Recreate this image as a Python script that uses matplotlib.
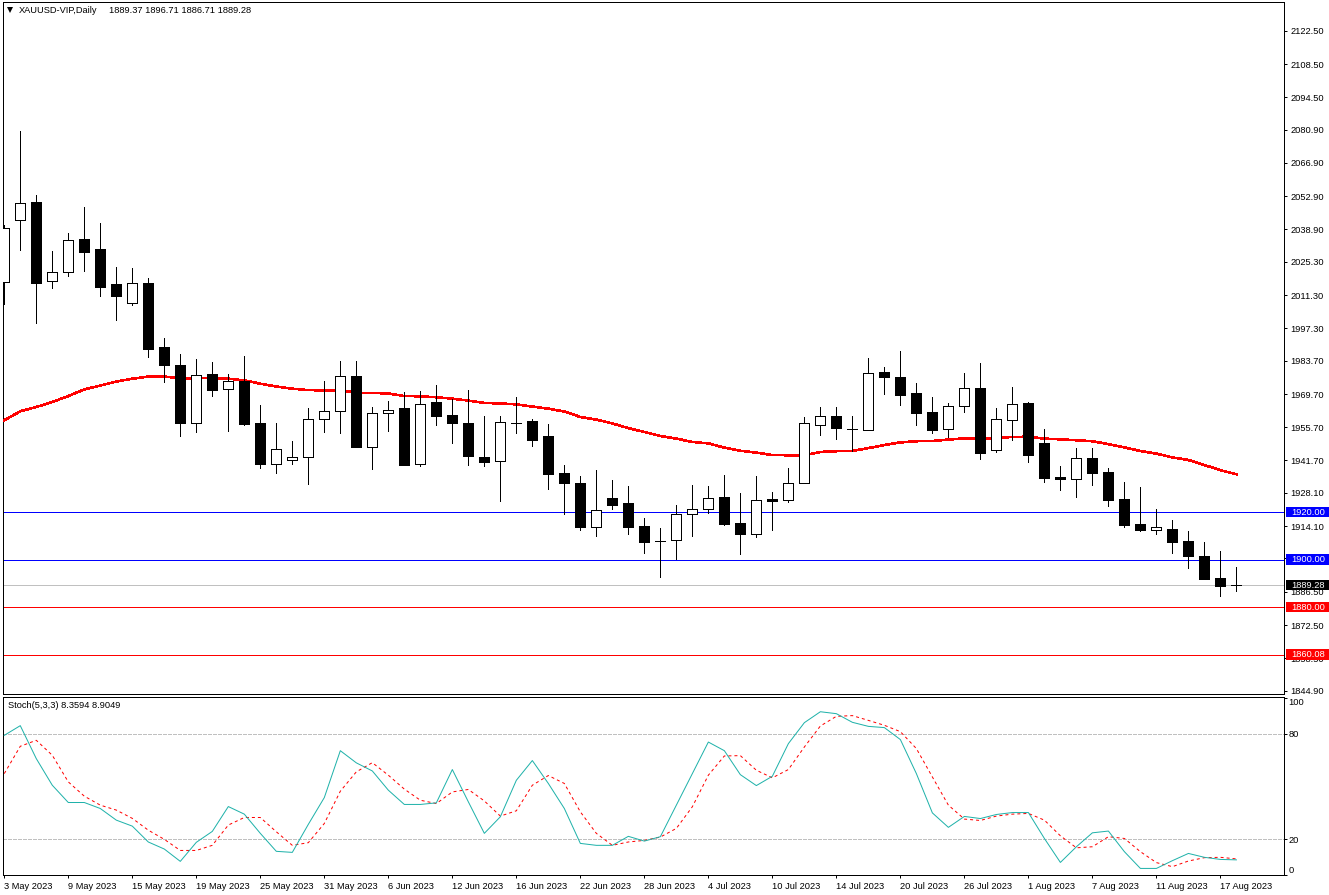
import matplotlib
matplotlib.use("Agg")
import matplotlib.pyplot as plt
from matplotlib.patches import Rectangle

W, H = 1329, 895

opens = [2016.9, 2043.0, 2050.3, 2017.2, 2021.1, 2034.7, 2030.5, 2015.8, 2008.1, 2016.2, 1989.3, 1981.7, 1957.6,
         1977.9, 1971.9, 1975.3, 1957.3, 1940.4, 1942.1, 1943.3, 1959.3, 1962.7, 1977.1, 1947.5, 1961.8, 1963.6,
         1940.4, 1966.2, 1960.7, 1957.3, 1943.3, 1941.6, 1957.6, 1958.2, 1951.9, 1936.3, 1932.1, 1913.9, 1925.8,
         1923.7, 1914.0, 1908.0, 1908.4, 1919.3, 1921.4, 1926.2, 1915.3, 1910.9, 1925.4, 1925.2, 1932.4, 1956.8,
         1960.3, 1955.1, 1954.7, 1978.8, 1976.7, 1969.9, 1962.0, 1955.1, 1964.8, 1972.1, 1946.3, 1958.9, 1965.7,
         1948.9, 1934.6, 1934.1, 1942.6, 1936.7, 1925.4, 1914.8, 1912.6, 1912.7, 1907.7, 1901.4, 1892.1, 1889.37]
highs = [2040.6, 2080.1, 2053.2, 2029.7, 2037.5, 2048.2, 2041.4, 2022.9, 2022.5, 2018.3, 1993.1, 1986.4, 1984.2,
         1983.0, 1977.9, 1985.5, 1964.9, 1957.3, 1949.8, 1963.6, 1975.0, 1983.4, 1983.4, 1964.1, 1966.6, 1970.4,
         1970.8, 1973.3, 1967.4, 1971.2, 1960.3, 1960.3, 1968.3, 1959.0, 1956.9, 1939.7, 1935.0, 1937.6, 1933.4,
         1930.8, 1917.4, 1913.2, 1922.8, 1931.2, 1930.8, 1935.4, 1927.9, 1935.0, 1928.3, 1938.4, 1959.9, 1964.1,
         1964.1, 1960.3, 1984.7, 1980.9, 1987.6, 1974.2, 1968.3, 1965.7, 1978.4, 1982.6, 1963.6, 1972.5, 1966.2,
         1954.8, 1939.2, 1946.8, 1946.8, 1938.4, 1932.5, 1930.4, 1921.2, 1916.5, 1911.9, 1907.3, 1903.5, 1896.71]
lows = [2007.4, 2030.2, 1999.5, 2014.2, 2019.3, 2021.4, 2010.9, 2000.8, 2007.1, 1985.2, 1974.7, 1952.0, 1953.7,
        1968.8, 1954.1, 1956.5, 1938.5, 1936.4, 1940.2, 1931.8, 1953.7, 1953.3, 1947.4, 1938.1, 1954.1, 1939.8,
        1939.4, 1956.6, 1949.0, 1939.8, 1939.4, 1924.6, 1953.3, 1947.8, 1929.7, 1919.2, 1912.5, 1909.9, 1921.3,
        1910.8, 1902.8, 1892.7, 1900.1, 1909.9, 1919.6, 1914.5, 1902.3, 1909.5, 1912.5, 1924.2, 1932.4, 1952.4,
        1950.7, 1945.7, 1954.7, 1969.5, 1964.9, 1956.5, 1953.1, 1951.4, 1962.0, 1942.2, 1945.3, 1950.2, 1940.9,
        1932.6, 1929.2, 1926.2, 1931.4, 1922.5, 1913.6, 1912.0, 1910.6, 1902.8, 1896.3, 1891.7, 1884.7, 1886.71]
closes = [2039.6, 2050.2, 2016.3, 2021.0, 2034.6, 2029.4, 2014.7, 2010.7, 2016.5, 1988.6, 1981.9, 1957.5, 1977.8,
          1971.3, 1975.3, 1956.9, 1940.2, 1946.7, 1943.3, 1959.3, 1962.7, 1977.4, 1947.4, 1961.8, 1963.1, 1939.8,
          1965.6, 1960.4, 1957.5, 1943.6, 1941.0, 1958.0, 1957.6, 1950.3, 1936.0, 1932.2, 1913.7, 1921.0, 1923.0,
          1913.7, 1907.4, 1908.0, 1919.3, 1921.4, 1926.1, 1915.0, 1910.8, 1925.2, 1924.6, 1932.4, 1957.6, 1960.6,
          1955.3, 1955.1, 1978.6, 1976.8, 1969.2, 1961.7, 1954.5, 1964.8, 1972.3, 1944.8, 1959.3, 1965.6, 1944.0,
          1934.3, 1933.9, 1942.9, 1936.4, 1925.1, 1914.6, 1912.5, 1913.9, 1907.4, 1901.5, 1891.7, 1888.9, 1889.28]
ma_values = [1958.6, 1962.4, 1964.2, 1966.3, 1968.8, 1971.6, 1973.2, 1974.9, 1976.1, 1977.0, 1977.0, 1976.3, 1976.3,
             1976.4, 1976.1, 1975.4, 1974.0, 1972.8, 1971.9, 1971.3, 1971.2, 1971.2, 1970.2, 1970.1, 1969.9, 1968.8,
             1968.7, 1968.3, 1967.7, 1966.9, 1965.9, 1965.7, 1965.3, 1964.4, 1963.5, 1962.3, 1960.0, 1958.9, 1957.3,
             1955.3, 1953.7, 1952.0, 1950.9, 1949.5, 1948.9, 1947.1, 1945.8, 1945.0, 1944.0, 1943.9, 1943.9, 1945.3,
             1945.6, 1945.7, 1946.9, 1948.2, 1949.3, 1949.8, 1949.9, 1950.5, 1951.0, 1951.0, 1951.1, 1951.6, 1951.7,
             1950.9, 1950.6, 1950.2, 1949.8, 1948.6, 1947.2, 1945.7, 1944.6, 1943.0, 1941.9, 1939.8, 1937.6, 1935.9]
stoch_main = [79.0, 84.5, 65.8, 50.7, 40.9, 40.9, 37.5, 30.9, 27.5, 18.5, 14.5, 7.5, 18.3,
              24.5, 38.6, 34.3, 23.4, 13.2, 12.6, 28.5, 43.7, 70.3, 63.4, 58.8, 47.9, 39.8,
              39.8, 40.7, 59.6, 41.3, 23.4, 32.8, 53.5, 64.7, 51.7, 37.5, 17.7, 16.6, 16.6,
              21.7, 19.0, 21.5, 39.4, 57.3, 75.2, 70.3, 56.7, 50.5, 55.8, 74.3, 86.2, 92.4,
              91.3, 86.4, 84.1, 83.4, 76.6, 57.3, 35.0, 26.8, 33.0, 31.8, 34.1, 35.2, 35.2,
              20.5, 6.9, 15.8, 23.7, 24.7, 13.0, 3.5, 3.5, 7.9, 12.0, 9.8, 8.6, 8.36]
stoch_signal = [57.3, 72.8, 76.2, 67.7, 52.6, 44.5, 39.4, 36.6, 31.9, 25.2, 20.0, 13.7, 13.7,
                16.6, 28.1, 32.4, 32.4, 24.3, 16.6, 18.1, 29.0, 47.3, 58.3, 63.5, 56.4, 48.5,
                42.2, 40.3, 46.9, 48.3, 41.8, 33.2, 36.2, 50.7, 56.2, 51.7, 35.6, 23.4, 16.6,
                18.5, 19.4, 21.3, 26.2, 38.5, 56.4, 67.3, 67.5, 59.2, 54.9, 59.6, 72.4, 84.3,
                89.8, 90.2, 87.5, 84.7, 81.1, 71.5, 55.4, 39.4, 31.5, 30.7, 33.2, 34.3, 34.7,
                30.9, 22.0, 15.2, 15.8, 21.5, 20.5, 13.0, 6.8, 4.5, 7.7, 9.6, 9.8, 8.90]

price_ticks = [2122.50, 2108.50, 2094.50, 2080.90, 2066.90, 2052.90, 2038.90, 2025.30, 2011.30, 1997.30, 1983.70,
               1969.70, 1955.70, 1941.70, 1928.10, 1914.10, 1900.50, 1886.50, 1872.50, 1858.50, 1844.90]
date_labels = ["3 May 2023", "9 May 2023", "15 May 2023", "19 May 2023", "25 May 2023", "31 May 2023", "6 Jun 2023",
               "12 Jun 2023", "16 Jun 2023", "22 Jun 2023", "28 Jun 2023", "4 Jul 2023", "10 Jul 2023", "14 Jul 2023",
               "20 Jul 2023", "26 Jul 2023", "1 Aug 2023", "7 Aug 2023", "11 Aug 2023", "17 Aug 2023"]
levels = [1920.00, 1900.00, 1880.00, 1860.08]
level_colors = ["#0000ff", "#0000ff", "#ff0000", "#ff0000"]
last_price = 1889.28

PX = 0.72
FONT = "Liberation Sans"
FS = 6.7


def make_axes(fig, left, top, right, bottom):
    return fig.add_axes([left / W, 1 - bottom / H, (right - left) / W, (bottom - top) / H])


def draw_candles(ax):
    x = list(range(len(opens)))
    ax.vlines(x, lows, highs, color="black", lw=PX, antialiased=False, zorder=4)
    for i in x:
        bull = closes[i] >= opens[i]
        ax.bar(i, closes[i] - opens[i], bottom=opens[i], width=0.62, linewidth=PX, edgecolor="black",
               facecolor="white" if bull else "black", antialiased=False, zorder=5)


def price_tag(ax, price, color, text):
    ax.add_patch(Rectangle((1.0016, price - 2.2), 0.0335, 4.4, transform=ax.get_yaxis_transform(),
                           facecolor=color, edgecolor="none", clip_on=False, zorder=10))
    ax.text(1.0053, price, text, transform=ax.get_yaxis_transform(), color="white", fontsize=FS, family=FONT,
            va="center", ha="left", zorder=11, clip_on=False)


plt.rcParams["font.family"] = FONT
fig = plt.figure(figsize=((W + 0.1) / 100, (H + 0.1) / 100), dpi=100, facecolor="white")

# price pane
ax = make_axes(fig, 3, 2, 1284, 694.2)
ax.set_xlim(-0.08, 79.98)
ax.set_ylim(1843.4, 2134.6)
for level, color in zip(levels, level_colors):
    ax.axhline(level, color=color, lw=PX, antialiased=False, zorder=2)
ax.axhline(last_price, color="#c0c0c0", lw=PX, antialiased=False, zorder=2)
ax.plot(range(len(ma_values)), ma_values, color="#ff0000", lw=1.15, antialiased=False, zorder=3)
draw_candles(ax)

ax.yaxis.tick_right()
ax.set_yticks(price_ticks)
ax.set_yticklabels([f"{p:.2f}" for p in price_ticks], fontsize=FS)
ax.tick_params(axis="y", length=2.2, width=PX, pad=2.4)
ax.set_xticks([])
for level, color in zip(levels, level_colors):
    price_tag(ax, level, color, f"{level:.2f}")
price_tag(ax, last_price, "black", f"{last_price:.2f}")

ax.plot([0.0055], [0.9877], marker="v", ms=4.2, color="black", mew=0, transform=ax.transAxes, clip_on=False)
fig.text(18.7 / W, 1 - 10.7 / H, "XAUUSD-VIP,Daily", fontsize=FS, va="center")
fig.text(109.3 / W, 1 - 10.7 / H, "1889.37 1896.71 1886.71 1889.28", fontsize=FS, va="center")

# stochastic pane
ax2 = make_axes(fig, 3, 696.6, 1284, 875.3)
ax2.set_xlim(-0.08, 79.98)
ax2.set_ylim(-0.4, 101)
for level in [80, 20]:
    ax2.axhline(level, color="#c0c0c0", lw=PX, ls=(0, (3, 2)), antialiased=False, zorder=1)
ax2.plot(range(len(stoch_main)), stoch_main, color="#20b2aa", lw=PX, zorder=3)
ax2.plot(range(len(stoch_signal)), stoch_signal, color="#ff0000", lw=PX, ls=(0, (3, 3)), zorder=2)

ax2.yaxis.tick_right()
ax2.set_yticks([100, 80, 20, 0])
ax2.set_yticklabels(["100", "80", "20", "0"], fontsize=FS)
ax2.tick_params(axis="y", length=2.2, width=PX, pad=0.8)
ax2.get_yticklabels()[0].set_va("top")
ax2.get_yticklabels()[3].set_va("bottom")

ax2.set_xticks(range(0, 4 * len(date_labels), 4))
ax2.set_xticklabels(date_labels, fontsize=FS, ha="left")
ax2.tick_params(axis="x", length=2.2, width=PX, pad=2.2)
fig.text(8.3 / W, 1 - 705.3 / H, "Stoch(5,3,3) 8.3594 8.9049", fontsize=FS, va="center")

for a in (ax, ax2):
    for spine in a.spines.values():
        spine.set_linewidth(PX)
        spine.set_color("black")

fig.savefig("out.png", dpi=100)
